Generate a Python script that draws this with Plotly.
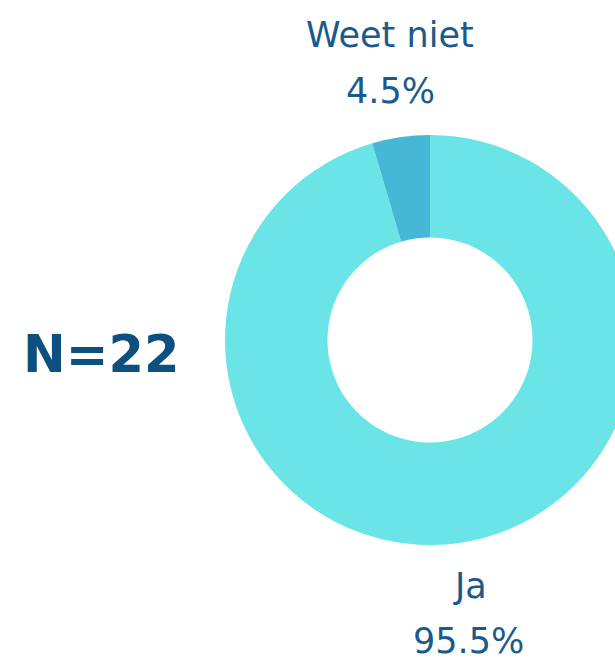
import plotly.graph_objects as go

# Data
categories = ["Ja", "Weet niet"]
values = [21, 1]
colors = ["#6BE4E8", "#46B8D6"]
n_label = "N=22"

total = sum(values)
pct = [f"{v / total * 100:.1f}%" for v in values]

W, H = 860, 660
text_color = "#1A5A8C"

fig = go.Figure(go.Pie(
    labels=categories,
    values=values,
    hole=0.5,
    sort=False,
    direction="clockwise",
    rotation=0,
    marker=dict(colors=colors, line=dict(width=0)),
    textinfo="none",
    hoverinfo="label+percent",
    domain=dict(x=[0, 1], y=[115 / H, 525 / H]),
    showlegend=False,
))

def px(x, y):
    return x / W, 1 - y / H

# label positions (in pixels of the picture)
label_pos = {"Ja": ((470, 586), (469, 641)), "Weet niet": ((390, 35), (390, 91))}
anns = []
for cat, p in zip(categories, pct):
    (lx, ly), (qx, qy) = label_pos[cat]
    x1, y1 = px(lx, ly)
    x2, y2 = px(qx, qy)
    anns.append(dict(x=x1, y=y1, xref="paper", yref="paper", text=cat, showarrow=False,
                     xanchor="center", yanchor="middle",
                     font=dict(family="DejaVu Sans", size=35, color=text_color)))
    anns.append(dict(x=x2, y=y2, xref="paper", yref="paper", text=p, showarrow=False,
                     xanchor="center", yanchor="middle",
                     font=dict(family="DejaVu Sans", size=35, color=text_color)))
nx, ny = px(101, 354)
anns.append(dict(x=nx, y=ny, xref="paper", yref="paper", text=f"<b>{n_label}</b>", showarrow=False,
                 xanchor="center", yanchor="middle",
                 font=dict(family="DejaVu Sans", size=51, color="#0D5080")))

fig.update_layout(
    width=W, height=H,
    margin=dict(l=0, r=0, t=0, b=0),
    paper_bgcolor="white", plot_bgcolor="white",
    annotations=anns,
)

fig.write_html("out.html",
               post_script="document.body.style.margin='0';document.body.style.overflow='hidden';document.documentElement.style.overflow='hidden';")
